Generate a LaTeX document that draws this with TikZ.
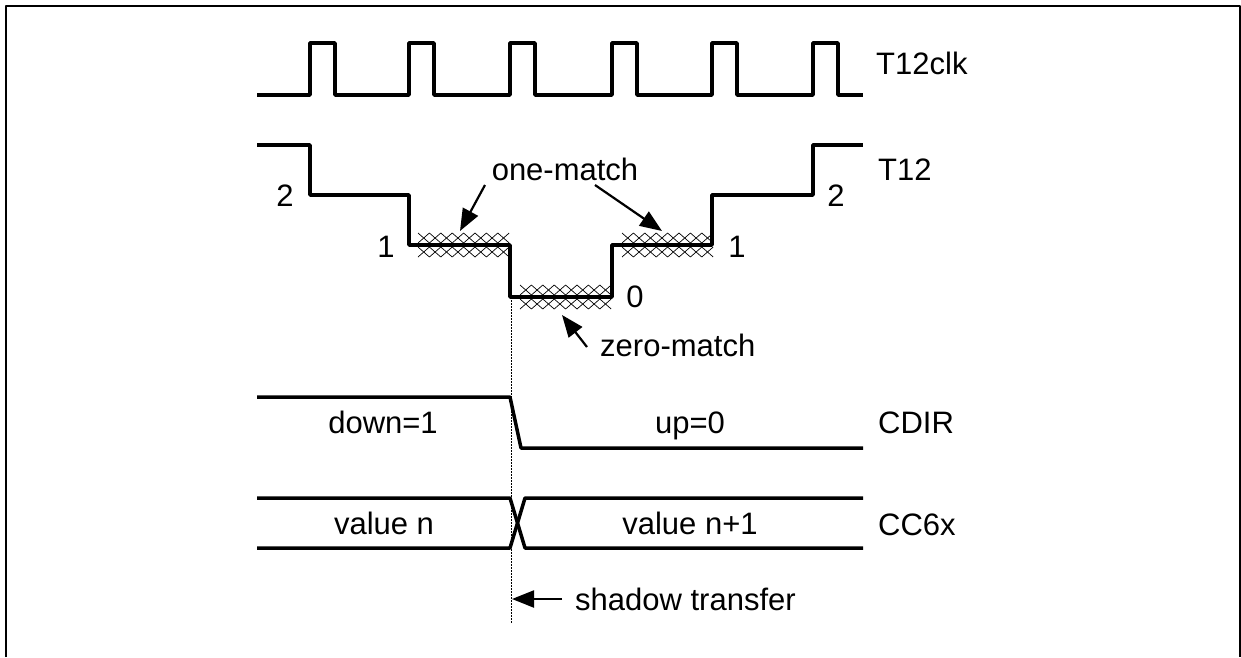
\documentclass[tikz,border=0pt]{standalone}
\usepackage{fontspec}
\setmainfont{Liberation Sans}
\usetikzlibrary{arrows.meta}
\begin{document}
\begin{tikzpicture}[x=1pt,y=-1pt,line join=round,
	signal/.style={line width=3.5pt},
	hatch/.style={line width=0.7pt},
	pointer/.style={line width=2.2pt,-{Triangle[length=22pt,width=17pt]}},
	lbl/.style={inner sep=0pt,font=\fontsize{31}{37}\selectfont}]
	\useasboundingbox (0,0) rectangle (1241,657);
	\draw[line width=2.5pt] (6,657) |- (1240,6) -- (1240,657);
		\path
	(485,185) coordinate (omA)
	(460,231) coordinate (omAtip)
	(595,185) coordinate (omB)
	(662,231) coordinate (omBtip)
	(587,347) coordinate (zm)
	(562,315) coordinate (zmtip)
	(562,599) coordinate (st)
	(512,599) coordinate (sttip)
	(511,297) coordinate (dtop)
	(511,623) coordinate (dbot)
	;
	% T12clk
	\draw[signal] (257,95) foreach \r in {310,409,510,612,712,813}{ -- (\r,95) -- (\r,43) -- (\r+25,43) -- (\r+25,95)} -- (863,95);
	% T12
	\draw[signal] (257,145) -- (310,145) -- (310,195) -- (409,195) -- (409,245) -- (510,245) -- (510,297)
		-- (612,297) -- (612,245) -- (712,245) -- (712,195) -- (813,195) -- (813,145) -- (863,145);
	\foreach \xa/\ya in {418/245,622/245,520/297}
		\foreach \i in {0,...,7}{
			\draw[hatch] (\xa+\i*11.4,\ya-12) -- ++(11.4,10) ++(-11.4,0) -- ++(11.4,-10);
			\draw[hatch] (\xa+\i*11.4,\ya+2) -- ++(11.4,10) ++(-11.4,0) -- ++(11.4,-10);
		}
	% CDIR
	\draw[signal] (257,397) -- (510,397) -- (521,448) -- (863,448);
	% CC6x
	\draw[signal] (257,498) -- (510,498) -- (525,548) -- (863,548);
	\draw[signal] (257,548) -- (510,548) -- (525,498) -- (863,498);
	\draw[line width=0.9pt,dash pattern=on 1.5pt off 1.5pt] (dtop) -- (dbot);
	% labels
	\foreach \n/\x/\y/\t in {clk/876/74/T12clk,tt/878/180/T12,cdir/878/433/CDIR,cc/878/535/CC6x,
		zero/600/356/zero-match,shadow/575/610/shadow transfer}
		\node[lbl,anchor=base west] (\n) at (\x,\y) {\t};
	\foreach \n/\x/\y/\t in {twoL/285/206/2,twoR/836/206/2,oneL/386/257/1,oneR/737/257/1,nil/635/307/0,
		one/565/180/one-match,down/383/433/down=1,up/690/433/up=0,valn/384/534/value n,valm/690/534/value n+1}
		\node[lbl,anchor=base] (\n) at (\x,\y) {\t};
	\draw[pointer] (omA) -- (omAtip);
	\draw[pointer] (omB) -- (omBtip);
	\draw[pointer] (zm) -- (zmtip);
	\draw[pointer] (st) -- (sttip);
\end{tikzpicture}
\end{document}
